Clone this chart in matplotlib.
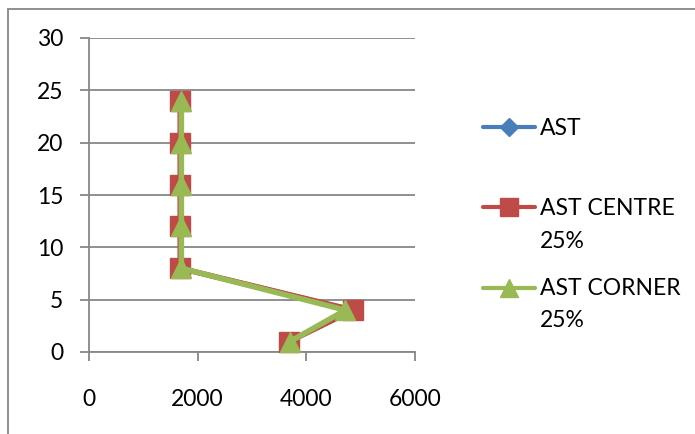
import matplotlib
matplotlib.use("Agg")
import matplotlib.pyplot as plt
from matplotlib.lines import Line2D
from matplotlib.patches import Rectangle

depth = [1, 4, 8, 12, 16, 20, 24]
ast = [3680, 4860, 1680, 1680, 1680, 1680, 1680]
ast_centre = [3680, 4860, 1680, 1680, 1680, 1680, 1680]
ast_corner = [3700, 4720, 1700, 1700, 1700, 1700, 1700]
series_labels = [["AST"], ["AST CENTRE", "25%"], ["AST CORNER", "25%"]]
x_ticks = [0, 2000, 4000, 6000]
y_ticks = [0, 5, 10, 15, 20, 25, 30]

plt.rcParams['font.family'] = ['Lato', 'DejaVu Sans']

fig = plt.figure(figsize=(6.95, 4.34), dpi=100)
ax = fig.add_axes([89/695, 1-352/434, (415-89)/695, (352-38)/434])

blue = '#4a7ebb'
red = '#be4b48'
green = '#98b954'
gray = '#878787'

ax.plot(ast, depth, color=blue, lw=3.5, marker='D', ms=8, zorder=3, clip_on=False)
ax.plot(ast_centre, depth, color=red, lw=4, marker='s', ms=14, zorder=4, clip_on=False)
ax.plot(ast_corner, depth, color=green, lw=4, marker='^', ms=15, zorder=5, clip_on=False)

ax.set_xlim(0, 6000)
ax.set_ylim(0, 30)
ax.set_xticks(x_ticks)
ax.set_yticks(y_ticks)
ax.yaxis.grid(True, color=gray, lw=1.3)
ax.set_axisbelow(True)
for s in ['top', 'right']:
    ax.spines[s].set_visible(False)
for s in ['left', 'bottom']:
    ax.spines[s].set_color(gray)
    ax.spines[s].set_linewidth(1.3)
ax.tick_params(axis='both', colors=gray, length=6.5, width=1.3, labelsize=16.5, labelcolor='black')
ax.tick_params(axis='x', pad=20)
ax.tick_params(axis='y', pad=12)

# chart border
fig.patches.append(Rectangle((8/695, -0.1), 1.1, 1 - 9/434 + 0.1, transform=fig.transFigure,
                             fill=False, edgecolor=gray, lw=1.3))

# legend
leg_items = [(blue, 'D', 9, 127, [135]),
             (red, 's', 13, 207, [215, 248]),
             (green, '^', 13, 288, [295, 327])]
for (c, m, ms, yp, bases), labs in zip(leg_items, series_labels):
    yf = 1 - yp / 434
    fig.add_artist(Line2D([483/695, 535/695], [yf, yf], color=c, lw=3,
                          solid_capstyle='round', transform=fig.transFigure))
    fig.add_artist(Line2D([509/695], [yf], color=c, marker=m, ms=ms, lw=0,
                          transform=fig.transFigure))
    for b, lab in zip(bases, labs):
        fig.text(540/695, 1 - b / 434, lab, fontsize=16.5, va='baseline', ha='left')

fig.savefig('out.png', dpi=100)
